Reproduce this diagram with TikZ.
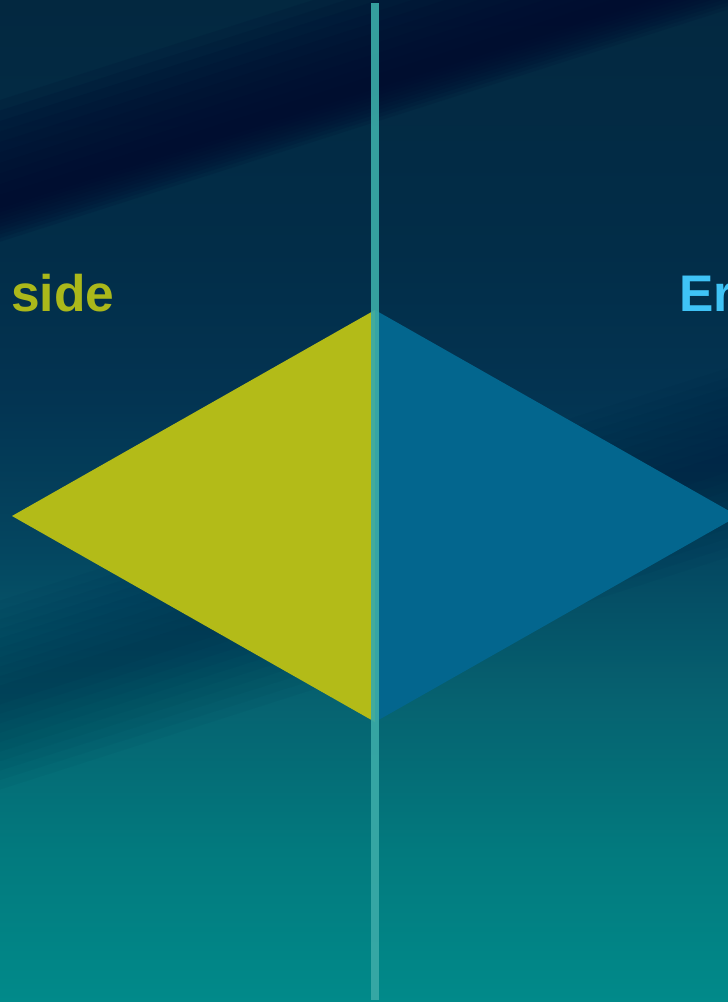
\documentclass[tikz,border=0pt]{standalone}
\usepackage{fontspec}
\setmainfont{Liberation Sans}
\definecolor{Navy}{HTML}{000A2E}
\definecolor{Lime}{HTML}{B3BB18}
\definecolor{LimeText}{HTML}{ABB81A}
\definecolor{Ocean}{HTML}{03668E}
\definecolor{Sky}{HTML}{3FC3F6}
\definecolor{Rule}{HTML}{3AAAA7}
\pgfdeclareverticalshading{bgshade}{100bp}{color(0bp)=(rgb,255:red,1;green,138;blue,138); color(25bp)=(rgb,255:red,1;green,138;blue,138); color(32.5bp)=(rgb,255:red,2;green,122;blue,126); color(40bp)=(rgb,255:red,6;green,98;blue,112); color(47.5bp)=(rgb,255:red,4;green,70;blue,96); color(55bp)=(rgb,255:red,3;green,52;blue,82); color(62.5bp)=(rgb,255:red,2;green,45;blue,72); color(75bp)=(rgb,255:red,3;green,40;blue,64); color(100bp)=(rgb,255:red,3;green,40;blue,64)}
\tikzset{
  label/.style={font=\bfseries\fontsize{51.5}{60}\selectfont,inner sep=0pt,anchor=base west},
  half/.style={draw=none},
  haze/.style={fill=Navy,opacity=#1},
  haze/.default=0.15
}
\begin{document}
\begin{tikzpicture}[x=1pt,y=-1pt]
\clip (0,0) rectangle (728,1002);
% background
\shade[shading=bgshade] (0,0) rectangle (728,1002);
% dark band across the top
\begin{scope}[rotate around={17.7:(0,205)}]
\foreach \k in {1,...,10}
  \fill[haze=0.15] (-400,205-10*\k) rectangle (1300,205+3.5*\k);
\end{scope}
% fainter band behind the diamond
\begin{scope}[rotate around={17.7:(0,695)}]
\foreach \k in {1,...,10}
  \fill[haze=0.035] (-400,695-9*\k) rectangle (1300,695+9*\k);
\end{scope}
% diamond
\coordinate (apex) at (375,310);
\coordinate (foot) at (375,722);
\coordinate (west) at (12,516);
\coordinate (east) at (738,516);
\fill[half,Lime] (west) -- (apex) -- (foot) -- cycle;
\fill[half,Ocean] (apex) -- (east) -- (foot) -- cycle;
% divider
\coordinate (railTop) at (375,3);
\coordinate (railEnd) at (375,1000);
\draw[Rule,line width=7.5pt,opacity=0.92] (railTop) -- (railEnd);
% labels
\node[label,text=LimeText] (sideLabel) at (11,311) {side};
\node[label,text=Sky] (erLabel) at (679,311) {Er};
\end{tikzpicture}
\end{document}
